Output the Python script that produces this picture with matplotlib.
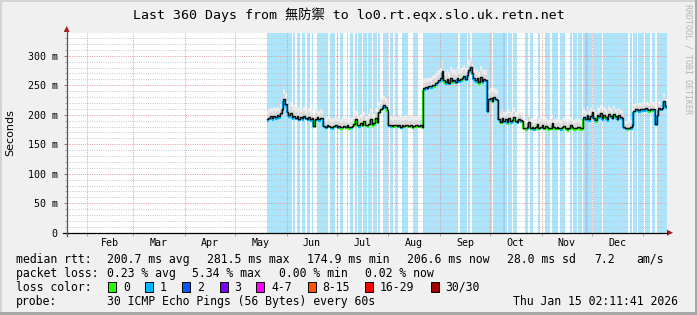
import matplotlib
matplotlib.use('Agg')
import matplotlib.pyplot as plt
import numpy as np
from datetime import datetime
from matplotlib.patches import Rectangle, Polygon
from matplotlib.lines import Line2D
from matplotlib.collections import LineCollection

# ---------------- data ----------------
title = "Last 360 Days from 無防禦 to lo0.rt.eqx.slo.uk.retn.net"
start_time = datetime(2025, 1, 20, 2, 11, 41)
span_days = 360
first_day = 120  # first day (since start) with data

# median rtt per day (ms), days 120..359
median_ms = [
    192, 195, 197, 194, 198, 196, 199, 197, 203, 210, 226, 218,
    205, 199, 203, 196, 198,
    195, 197, 193, 196, 194, 198, 195, 193, 196, 192, 194,
    181,
    193, 196, 192, 195, 194,
    181, 180, 182, 181, 180, 179, 181, 182, 180, 181, 179, 180, 181, 180, 182, 179, 180, 181,
    184, 192, 183, 182, 186, 183, 190, 183, 182, 185, 193, 184, 186, 195, 188,
    205, 210, 212, 217, 213, 208,
    183, 182, 181, 182, 183, 181, 182, 180, 182, 181, 183, 182, 181, 182, 180, 181, 182, 183, 181, 182, 180,
    245, 247, 246, 249, 248, 251, 250, 253,
    256, 258, 262, 274, 258, 255, 260, 254, 262, 257, 259, 256, 263, 258, 260, 262, 266, 261,
    268, 275, 281, 270, 262,
    258, 262, 255, 264, 257, 260, 259,
    207,
    226, 229, 224, 230, 227, 225,
    193, 188, 195, 190, 192, 187, 194, 189, 191, 196, 190, 188, 193, 191, 189,
    178, 177, 179, 188, 178, 180, 177, 179, 185, 178, 180, 182, 178, 181, 179, 177, 178, 186,
    179, 178, 180, 178, 177, 179, 181, 178, 175, 178, 182, 179, 177, 178, 180, 179, 177, 178,
    196, 193, 200, 192, 198, 204, 195, 191, 199, 197, 203, 194, 200, 196, 192, 201, 198, 195,
    202, 197, 193, 199, 196, 194,
    180, 178, 177, 178, 179, 182,
    207, 209, 210, 208, 209, 210, 209, 211, 210, 208, 209, 210, 209,
    185, 200,
    211, 210, 212, 224, 214,
]

# loss class of the median line per day (0 = no loss, 1 = one lost ping)
median_loss = [
    1,1,1,1,1,1,1,1,1,1,1,1, 1,1,0,1,1, 1,1,1,0,1,1,1,1,1,1,1, 0, 1,1,1,1,1,
    1,1,0,1,1,1,0,1,1,1,0,0,1,0,0,0,1,0,
    0,0,0,1,0,0,0,0,0,0,0,0,0,0,0, 0,0,1,1,0,0,
    1,1,0,0,0,0,1,1,0,0,0,0,0,0,0,0,0,0,0,0,0,
    1,1,1,1,1,1,0,1, 1,1,1,1,0,1,1,1,1,0,1,1,1,1,1,0,1,1, 1,1,1,1,1, 1,1,0,1,1,1,1,
    1,1,0,0,1,1,1,
    1,0,1,1,1,0,1,1,1,0,1,1,1,1,0,
    0,0,1,0,0,1,1,0,0,0, 1,1,0,0,0,0,0,1,0,0, 0,0,1,0,0,0,0,0,1,0, 0,0,0,0,0,0,
    1,1,0,1,1,1,1,0,1,1, 1,1,0,1,1,1,1,1,0,1, 1,1,1,1,
    1,1,0,0,1,1,
    0,1,1,1,1,1,1,1,1,0,0,1,1, 1,1, 1,1,1,1,1,
]

# packet loss class per day shown as background (0 none, 1 one, 2 two)
loss_bg = [
    1,1,1,1,1,1,1,1,1,1,1,1,1,1,1,0,1,0,1,1,
    0,1,1,0,1,1,0,1,0,0,1,1,1,1,1,1,1,0,1,1,
    1,0,1,0,1,1,0,0,1,0,1,1,0,1,0,1,1,0,1,1,
    0,1,1,0,1,1,0,1,0,0,1,1,1,0,1,1,0,1,1,0,
    0,1,1,1,1,0,0,0,1,1,1,0,0,0,1,1,1,1,1,1,
    1,1,1,1,1,1,1,1,1,1,1,1,1,1,1,0,1,1,1,1,
    0,1,0,1,1,1,1,1,1,1,1,1,1,1,1,0,1,1,1,1,
    1,1,2,1,0,1,1,0,1,1,0,0,0,0,0,1,1,0,1,1,
    0,0,0,1,0,0,0,1,1,1,0,1,1,1,1,0,1,1,1,0,
    0,0,1,0,1,1,0,1,1,0,1,2,2,1,1,0,1,1,1,1,
    1,0,1,1,1,1,1,1,1,1,1,1,1,1,1,1,1,0,1,0,
    1,1,0,1,1,1,0,1,1,1,0,1,1,0,1,1,1,1,1,1,
]

# smoke spread above the median, per 10-day block (ms)
smoke_spread = [15, 18, 15, 14, 14, 15, 16, 15, 16, 15, 18, 19,
                18, 16, 15, 14, 14, 14, 14, 14, 13, 12, 11, 12]

y_ticks = [0, 50, 100, 150, 200, 250, 300]
y_tick_labels = ["0", "50 m", "100 m", "150 m", "200 m", "250 m", "300 m"]

stats_rtt = ["200.7 ms avg", "281.5 ms max", "174.9 ms min", "206.6 ms now", "28.0 ms sd", "7.2", "am/s"]
stats_loss = ["0.23 % avg", "5.34 % max", "0.00 % min", "0.02 % now"]
loss_labels = ["0", "1", "2", "3", "4-7", "8-15", "16-29", "30/30"]
loss_colors = ["#26ff00", "#00b8ff", "#0059ff", "#7e00ff", "#ff00ff", "#ff5500", "#ff0000", "#a10000"]
probe_text = "30 ICMP Echo Pings (56 Bytes) every 60s"
stamp_text = "Thu Jan 15 02:11:41 2026"

# ---------------- layout ----------------
W, H = 697, 315
L, R, T, B = 66.7, 666.7, 33.0, 232.7
YMAX = 338.5

def fx(x):
    return x / W

def fy(y):
    return 1 - y / H

MONO = ['DejaVu Sans Mono']

fig = plt.figure(figsize=(W / 100, H / 100), dpi=100)
fig.patch.set_facecolor('#f0f0f0')

ax = fig.add_axes([fx(L), fy(B), (R - L) / W, (B - T) / H])
ax.set_facecolor('white')
ax.set_xlim(0, span_days)
ax.set_ylim(0, YMAX)
for s in ax.spines.values():
    s.set_visible(False)

n = len(median_ms)
days = first_day + np.arange(n)
med = np.array(median_ms, dtype=float)

# background loss bars
bg_cols = {1: '#abe4fb', 2: '#a9ccf7'}
bx = [d for d, l in zip(days, loss_bg) if l > 0]
bc = [bg_cols[l] for l in loss_bg if l > 0]
ax.bar(bx, YMAX, width=1.0, align='edge', color=bc, linewidth=0, zorder=1)

# grid
dot = (0, (1, 1.3))
for v in range(10, 340, 10):
    if v % 50:
        ax.axhline(v, color='#c8c8c8', lw=0.7, ls=dot, zorder=2)
for v in y_ticks[1:]:
    ax.axhline(v, color='#e39a9a', lw=0.7, ls=dot, zorder=2)

def day_of(dt):
    return (dt - start_time).total_seconds() / 86400.0

month_starts = []
y_, m_ = 2025, 2
while True:
    d = day_of(datetime(y_, m_, 1))
    if d >= span_days:
        break
    month_starts.append((y_, m_, d))
    m_ += 1
    if m_ > 12:
        m_, y_ = 1, y_ + 1
for _, _, d in month_starts:
    ax.axvline(d, color='#e39a9a', lw=0.7, ls=dot, zorder=2)

# smoke
spread = np.array([smoke_spread[int((d - first_day) // 10)] for d in days], dtype=float)
xe = np.append(days, days[-1] + 1)
lo = np.append(med - 3, med[-1] - 3)
hi = np.append(med + spread, med[-1] + spread[-1])
mid = np.append(med + spread * 0.55, med[-1] + spread[-1] * 0.55)
ax.fill_between(xe, lo, hi, step='post', color='#ebebeb', lw=0, zorder=3)
ax.fill_between(xe, lo, mid, step='post', color='#d9d9d9', lw=0, zorder=3)

# colored median (loss colour)
segs, cols = [], []
off = 2.6
for i in range(n):
    yv = med[i] - off
    seg = [(days[i], yv), (days[i] + 1, yv)]
    if i + 1 < n:
        seg.append((days[i] + 1, med[i + 1] - off))
    segs.append(seg)
    cols.append(loss_colors[median_loss[i]])
ax.add_collection(LineCollection(segs, colors=cols, linewidths=1.6, zorder=4, capstyle='butt'))

# black median
ax.step(xe, np.append(med, med[-1]), where='post', color='#111111', lw=1.0, zorder=5)

# ticks
ax.set_yticks(y_ticks)
ax.set_yticklabels(y_tick_labels, family=MONO, fontsize=7.2)
ax.tick_params(axis='y', length=2.5, width=0.7, color='#777777', pad=4.0)
ax.set_yticks(range(10, 340, 10), minor=True)
ax.tick_params(axis='y', which='minor', length=1.5, width=0.6, color='#999999')
ax.set_xticks([d for _, _, d in month_starts])
ax.set_xticklabels([])
ax.tick_params(axis='x', length=2, width=0.6, color='#999999')

# month labels centred mid-month
mnames = ['Jan', 'Feb', 'Mar', 'Apr', 'May', 'Jun', 'Jul', 'Aug', 'Sep', 'Oct', 'Nov', 'Dec']
for idx, (yy, mm, d) in enumerate(month_starts):
    ny, nm = (yy, mm + 1) if mm < 12 else (yy + 1, 1)
    dn = day_of(datetime(ny, nm, 1))
    c = (d + dn) / 2.0
    if 0 < c < span_days:
        ax.text(c, (B - 243) / (B - T), mnames[mm - 1], transform=ax.get_xaxis_transform(),
                ha='center', va='center', family=MONO, fontsize=7.2, color='black')

# axis lines and arrows
fig.add_artist(Line2D([fx(63), fx(667)], [fy(B), fy(B)], color='black', lw=0.9))
fig.add_artist(Line2D([fx(L), fx(L)], [fy(236), fy(30)], color='#555555', lw=0.9))
fig.add_artist(Polygon([(fx(L - 3), fy(32)), (fx(L + 3), fy(32)), (fx(L), fy(26))],
                       closed=True, color='#a51c1c', lw=0))
fig.add_artist(Polygon([(fx(667), fy(B - 3)), (fx(667), fy(B + 3)), (fx(673), fy(B))],
                       closed=True, color='#a51c1c', lw=0))

# titles / labels
fig.text(fx(348.5), fy(15), title, ha='center', va='center', fontsize=9.5,
         family=['DejaVu Sans Mono', 'Noto Sans CJK SC'], color='black')
fig.text(fx(10), fy(133), 'Seconds', rotation=90, ha='center', va='center',
         fontsize=8, family=['DejaVu Sans'], color='black')
fig.text(fx(688), fy(4), 'RRDTOOL / TOBI OETIKER', rotation=270, ha='center', va='top',
         fontsize=6, family=MONO, color='#b4b4b4')

LF = 8.3
def ltxt(x, y, s):
    fig.text(fx(x), fy(y), s, ha='left', va='center', fontsize=LF, family=MONO, color='black')

r1, r2, r3, r4 = 259.5, 273.5, 287.3, 301.2
ltxt(16, r1, 'median rtt:')
for x, s in zip([107, 207, 307, 407, 507, 594, 636], stats_rtt):
    ltxt(x, r1, s)
ltxt(16, r2, 'packet loss:')
for x, s in zip([107, 192.4, 279, 365], stats_loss):
    ltxt(x, r2, s)
ltxt(16, r3, 'loss color:')
box_x = [108, 145.3, 182.2, 219.6, 256.4, 307.6, 365.3, 431.1]
lab_x = [123.1, 160, 196.9, 234.2, 271.1, 322.2, 380, 445.3]
for bxp, lxp, s, c in zip(box_x, lab_x, loss_labels, loss_colors):
    fig.add_artist(Rectangle((fx(bxp), fy(r3 + 5)), 8 / W, 10 / H, facecolor=c,
                             edgecolor='black', lw=0.7))
    ltxt(lxp, r3, s)
ltxt(16, r4, 'probe:')
ltxt(107, r4, probe_text)
ltxt(513, r4, stamp_text)

# 3D frame
fig.add_artist(Rectangle((0, fy(2)), 1, 2 / H, facecolor='#d4d4d4', lw=0))
fig.add_artist(Rectangle((0, 0), 2 / W, 1, facecolor='#d4d4d4', lw=0))
fig.add_artist(Rectangle((0, 0), 1, 3 / H, facecolor='#a6a6a6', lw=0))
fig.add_artist(Rectangle((fx(695), 0), 2 / W, 1, facecolor='#a6a6a6', lw=0))

fig.savefig('out.png', dpi=100, facecolor=fig.get_facecolor())
